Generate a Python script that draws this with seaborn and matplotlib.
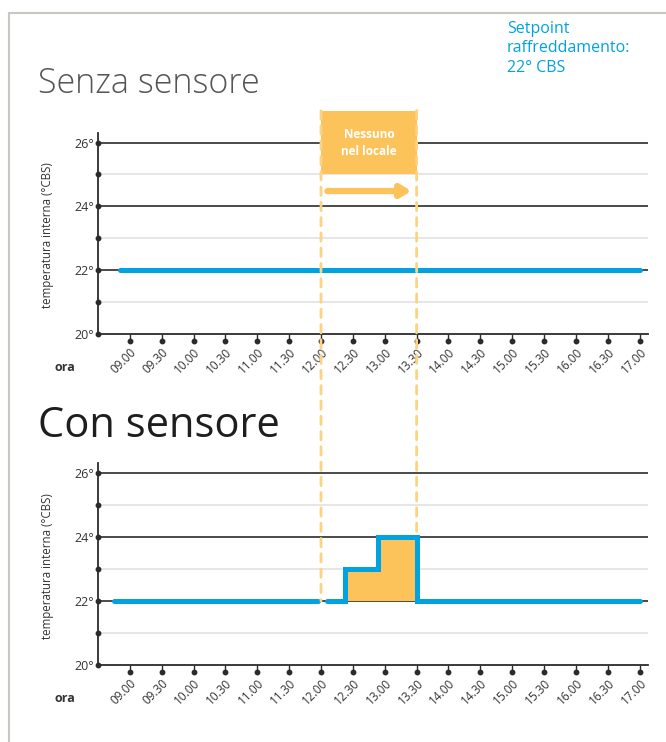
import numpy as np
import pandas as pd
import matplotlib.pyplot as plt
import seaborn as sns
from matplotlib.patches import Rectangle, ConnectionPatch
from matplotlib.lines import Line2D

# data
hour_ticks = [9.0, 9.5, 10.0, 10.5, 11.0, 11.5, 12.0, 12.5, 13.0,
              13.5, 14.0, 14.5, 15.0, 15.5, 16.0, 16.5, 17.0]
hour_labels = ["09.00", "09.30", "10.00", "10.30", "11.00", "11.30", "12.00",
               "12.30", "13.00", "13.30", "14.00", "14.30", "15.00", "15.30",
               "16.00", "16.30", "17.00"]
temp_ticks = [20, 21, 22, 23, 24, 25, 26]
temp_labels = ["20°", "", "22°", "", "24°", "", "26°"]
major_grid = [22, 24, 26]
minor_grid = [21, 23, 25]

senza_hours = [8.85, 17.0]
senza_temp = [22, 22]

con_segment = [0, 0, 1, 1, 1, 1, 1]
con_hours = [8.75, 11.95, 12.1, 12.37, 12.9, 13.5, 17.0]
con_temp = [22, 22, 22, 23, 24, 22, 22]

absence_start, absence_end = 12.0, 13.5
setpoint = 22

BLUE = "#00a3e0"
ORANGE = "#fdc35b"
DARK = "#2b2b2b"
XLIM = (8.5, 17.13)
YLIM = (20, 26.3)

sns.set_theme(style="white")
plt.rcParams["font.family"] = ["Open Sans", "DejaVu Sans"]

fig = plt.figure(figsize=(6.66, 7.42), dpi=100)
ax1 = fig.add_axes([0.147, 0.5499, 0.826, 0.2709])
ax2 = fig.add_axes([0.147, 0.1038, 0.826, 0.2722])


def style_axis(ax):
    for y in minor_grid:
        ax.axhline(y, color="#e6e6e6", lw=1.4, zorder=1)
    for y in major_grid:
        ax.axhline(y, color=DARK, lw=1.2, zorder=1)
    sns.despine(ax=ax)
    for s in ["left", "bottom"]:
        ax.spines[s].set_color(DARK)
        ax.spines[s].set_linewidth(1.3)
    ax.set_xlim(*XLIM)
    ax.set_ylim(*YLIM)
    ax.set_yticks(temp_ticks)
    ax.set_yticklabels(temp_labels, fontsize=9, color="#333333")
    ax.tick_params(axis="y", length=0, pad=3)
    ax.set_xticks(hour_ticks)
    ax.set_xticklabels(hour_labels, fontsize=8.5, color="#333333",
                       rotation=45, ha="right", va="top", rotation_mode="anchor")
    ax.tick_params(axis="x", bottom=True, direction="out", length=5, width=1,
                   color=DARK, pad=3.5)
    # dots on the axes
    ax.plot([0] * len(temp_ticks), temp_ticks, "o", ms=3.2, color=DARK,
            transform=ax.get_yaxis_transform(), clip_on=False, zorder=5)
    ax.plot(hour_ticks, [-0.036] * len(hour_ticks), "o", ms=3.2, color=DARK,
            transform=ax.get_xaxis_transform(), clip_on=False, zorder=5)
    ax.set_xlabel("")
    ax.set_ylabel("temperatura interna (°CBS)", fontsize=8.3, color="#333333")
    ax.yaxis.set_label_coords(-0.08, 0.49)
    ax.text(-0.06, -0.165, "ora", transform=ax.transAxes, ha="center",
            va="center", fontsize=9, fontweight="bold", color="#333333")
    ax.set_facecolor("none")


# top chart: senza sensore
sns.lineplot(x=senza_hours, y=senza_temp, ax=ax1, color=BLUE, lw=3.6,
             solid_capstyle="round", zorder=4)
style_axis(ax1)

ax1.add_patch(Rectangle((absence_start, 25), absence_end - absence_start, 2,
                        facecolor=ORANGE, edgecolor="none", clip_on=False, zorder=3))
ax1.text((absence_start + absence_end) / 2, 25.98, "Nessuno\nnel locale",
         ha="center", va="center", color="white", fontsize=8.5, fontweight="bold",
         linespacing=1.35, zorder=6)
ax1.annotate("", xy=(absence_end - 0.08, 24.48), xytext=(absence_start + 0.1, 24.48),
             arrowprops=dict(arrowstyle="-|>,head_length=0.5,head_width=0.3",
                             color=ORANGE, lw=4.5, shrinkA=0, shrinkB=0), zorder=6)

# bottom chart: con sensore
con_df = pd.DataFrame({"ora": con_hours, "temp": con_temp, "seg": con_segment})
ax2.fill_between(con_hours[2:], setpoint, con_temp[2:], step="post",
                 color=ORANGE, lw=0, zorder=2)
sns.lineplot(data=con_df, x="ora", y="temp", units="seg", estimator=None,
             ax=ax2, color=BLUE, lw=3.6, drawstyle="steps-post",
             solid_capstyle="round", solid_joinstyle="miter", zorder=4)
style_axis(ax2)

# dashed guides across both charts
for xh, y_end in [(absence_start, setpoint), (absence_end, 24)]:
    con = ConnectionPatch(xyA=(xh, 27), coordsA=ax1.transData,
                          xyB=(xh, y_end), coordsB=ax2.transData,
                          color="#fcd283", lw=2, linestyle=(0, (3, 2.5)), zorder=3)
    fig.add_artist(con)

# titles and notes
fig.text(0.057, 0.8747, "Senza sensore", fontsize=24.5, color="#555555",
         fontweight="light", va="baseline", ha="left")
fig.text(0.057, 0.411, "Con sensore", fontsize=30, color="#1e1e1e",
         va="baseline", ha="left")
fig.text(0.761, 0.972, "Setpoint\nraffreddamento:\n22° CBS", fontsize=11.5,
         color=BLUE, va="top", ha="left", linespacing=1.3)

# frame
fig.add_artist(Line2D([0.0135, 1], [0.9825, 0.9825], color="#c9c7c1", lw=1.5))
fig.add_artist(Line2D([0.0135, 0.0135], [0, 0.9825], color="#c9c7c1", lw=1.5))

fig.savefig("out.png", dpi=100)
